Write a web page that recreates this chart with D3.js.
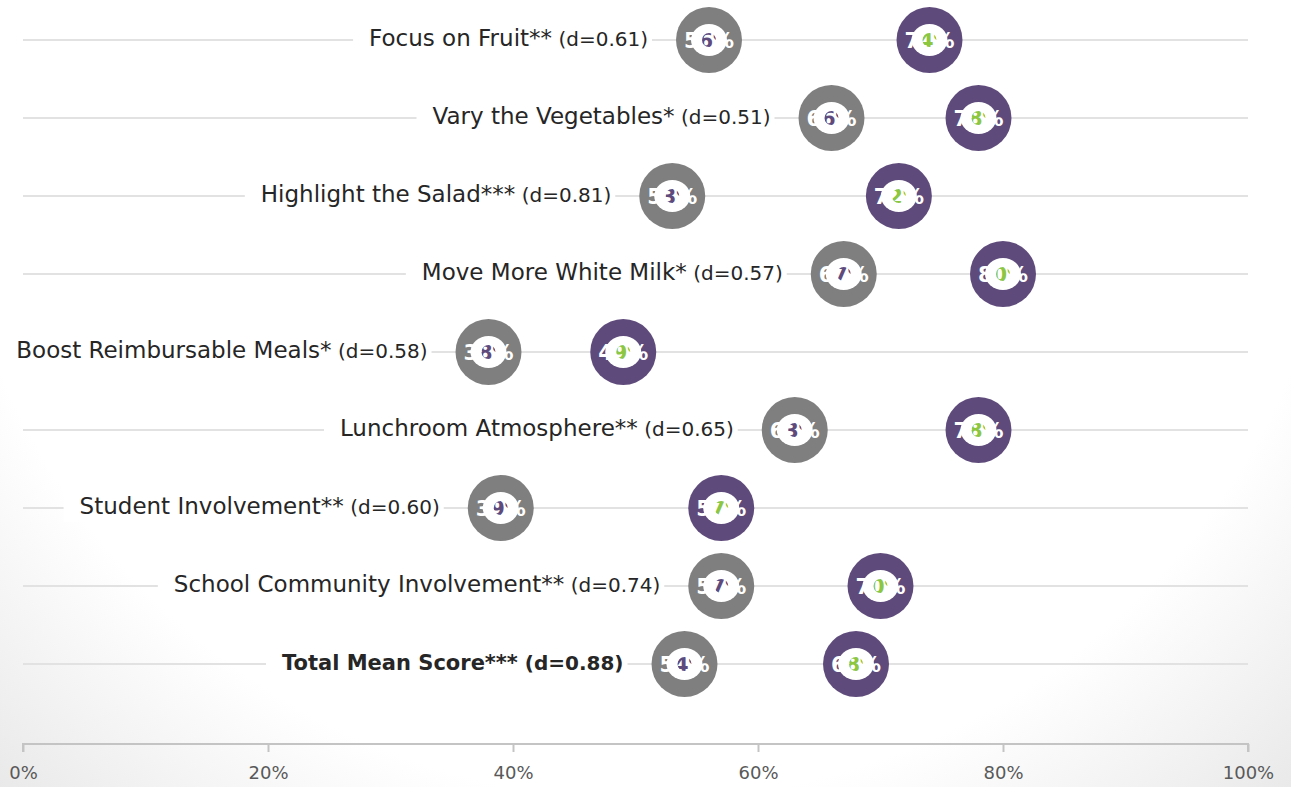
<!DOCTYPE html>
<html>
<head>
<meta charset="utf-8">
<script src="https://cdn.jsdelivr.net/npm/d3@7"></script>
<style>
  body { margin: 0; background: #fff; }
  svg { display: block; }
</style>
</head>
<body>
<svg id="chart" width="1291" height="787"></svg>
<script>
// data
const categories = [
    "Focus on Fruit", "Vary the Vegetables", "Highlight the Salad",
    "Move More White Milk", "Boost Reimbursable Meals", "Lunchroom Atmosphere",
    "Student Involvement", "School Community Involvement", "Total Mean Score"
];
const stars = ["**", "*", "***", "*", "*", "**", "**", "**", "***"];
const effectSizes = ["0.61", "0.51", "0.81", "0.57", "0.58", "0.65", "0.60", "0.74", "0.88"];
const preScores = [0.56, 0.66, 0.53, 0.67, 0.38, 0.63, 0.39, 0.57, 0.54];
const postScores = [0.74, 0.78, 0.715, 0.80, 0.49, 0.78, 0.57, 0.70, 0.68];
const tickValues = [0, 0.2, 0.4, 0.6, 0.8, 1];

const svg = d3.select("#chart"),
    width = +svg.attr("width"),
    height = +svg.attr("height");

// soft vignette in the bottom corners
const defs = svg.append("defs");
const bg = defs.append("radialGradient")
    .attr("id", "bg")
    .attr("gradientUnits", "userSpaceOnUse")
    .attr("cx", width / 2).attr("cy", 100).attr("r", 1000);
bg.append("stop").attr("offset", "0.7").attr("stop-color", "#ffffff");
bg.append("stop").attr("offset", "1").attr("stop-color", "#e4e4e4");
svg.append("rect").attr("width", width).attr("height", height).attr("fill", "url(#bg)");

const font = "'DejaVu Sans', sans-serif";
const rings = { pre: "#7f7f7f", post: "#5f4b7b" };
const inner = { pre: "#5f4b7b", post: "#8dc63f" };

const x = d3.scaleLinear().domain([0, 1]).range([23, 1248]);
const y = d3.scalePoint().domain(categories).range([40, 664]);
const axisY = 744;
const r = 33;

const rows = categories.map((c, i) => ({
    name: c, stars: stars[i], d: effectSizes[i], pre: preScores[i], post: postScores[i], i
}));

// gridlines
svg.append("g")
    .selectAll("line")
    .data(rows)
    .join("line")
    .attr("x1", x(0)).attr("x2", x(1))
    .attr("y1", d => y(d.name)).attr("y2", d => y(d.name))
    .attr("stroke", "#e2e2e2")
    .attr("stroke-width", 2);

// x axis
const xAxis = svg.append("g")
    .attr("transform", `translate(0,${axisY})`)
    .call(d3.axisBottom(x).tickValues(tickValues).tickFormat(d3.format(".0%")).tickSize(8).tickPadding(14));
xAxis.select(".domain").attr("stroke", "#c4c4c4").attr("stroke-width", 2).attr("d", `M${x(0)},8V0H${x(1)}V8`);
xAxis.selectAll(".tick line").attr("stroke", "#c4c4c4").attr("stroke-width", 2);
xAxis.selectAll(".tick text")
    .style("font-family", font)
    .style("font-size", "18px")
    .attr("fill", "#595959");

// category labels with white box
const labels = svg.append("g");
rows.forEach(d => {
    const g = labels.append("g");
    const bold = d.i === rows.length - 1 ? "bold" : "normal";
    const t = g.append("text")
        .attr("x", x(d.pre) - r - 28)
        .attr("y", y(d.name))
        .attr("dy", "0.36em")
        .attr("text-anchor", "end")
        .style("font-family", font)
        .style("font-weight", bold)
        .attr("fill", "#262626");
    t.append("tspan").style("font-size", bold === "bold" ? "21px" : "23px").text(d.name + d.stars);
    t.append("tspan").style("font-size", "20px").text(` (d=${d.d})`);
    const b = t.node().getBBox();
    g.insert("rect", "text")
        .attr("x", b.x - 16)
        .attr("y", y(d.name) - 14)
        .attr("width", b.width + 20)
        .attr("height", 28)
        .attr("fill", "#ffffff");
});

// rings with their value labels
const points = [];
rows.forEach(d => {
    points.push({ key: "pre", name: d.name, v: d.pre, i: d.i });
    points.push({ key: "post", name: d.name, v: d.post, i: d.i });
});

const dots = svg.append("g")
    .selectAll("g")
    .data(points)
    .join("g")
    .attr("transform", d => `translate(${x(d.v)},${y(d.name)})`);

dots.append("circle").attr("r", r).attr("fill", d => rings[d.key]);
dots.append("ellipse").attr("rx", 18).attr("ry", 16).attr("fill", "#ffffff");

const fmt = d3.format(".0%");
dots.append("text")
    .attr("dy", "0.36em")
    .attr("text-anchor", "middle")
    .style("font-family", font)
    .style("font-size", "21px")
    .style("font-weight", "bold")
    .attr("fill", "#ffffff")
    .text(d => fmt(d.v));

dots.each(function (d, k) {
    defs.append("clipPath").attr("id", "c" + k)
        .append("circle").attr("r", 7);
    d3.select(this).append("text")
        .attr("clip-path", `url(#c${k})`)
        .attr("dy", "0.36em")
        .attr("text-anchor", "middle")
        .style("font-family", font)
        .style("font-size", "21px")
        .style("font-weight", "bold")
        .attr("fill", inner[d.key])
        .text(fmt(d.v));
});
</script>
</body>
</html>
